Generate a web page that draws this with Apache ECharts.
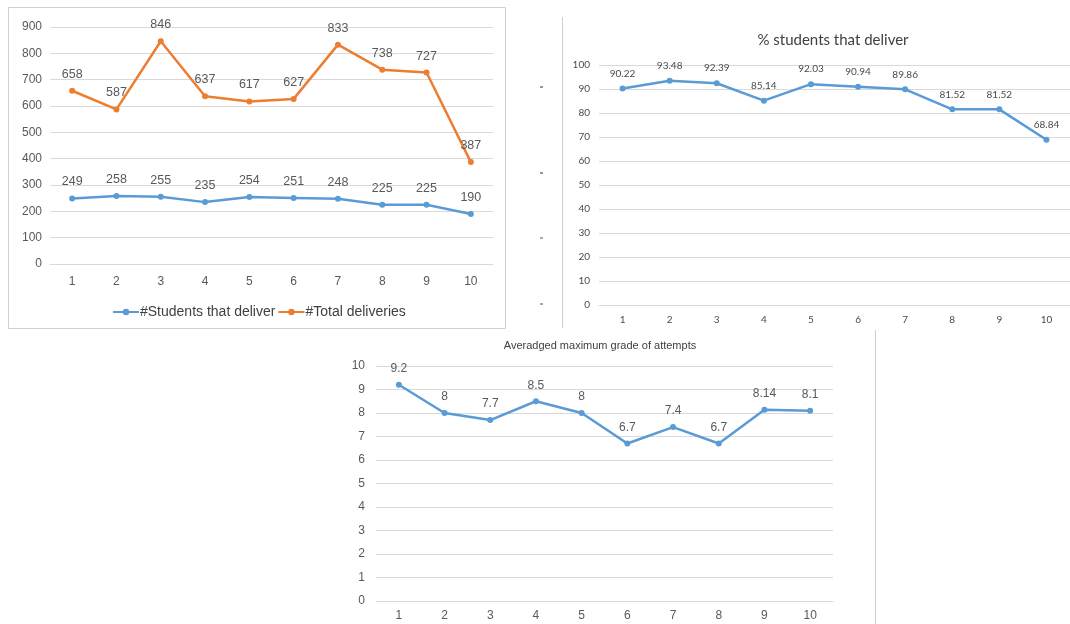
<!DOCTYPE html>
<html><head><meta charset="utf-8">
<script src="https://cdn.jsdelivr.net/npm/echarts@6/dist/echarts.min.js"></script>
<style>html,body{margin:0;padding:0;background:#fff}#c{width:1070px;height:624px}</style>
</head><body><div id="c"></div>
<script>
const categories = ['1','2','3','4','5','6','7','8','9','10'];
const studentsDeliver = [249, 258, 255, 235, 254, 251, 248, 225, 225, 190];
const totalDeliveries = [658, 587, 846, 637, 617, 627, 833, 738, 727, 387];
const pctDeliver = [90.22, 93.48, 92.39, 85.14, 92.03, 90.94, 89.86, 81.52, 81.52, 68.84];
const avgMaxGrade = [9.2, 8, 7.7, 8.5, 8, 6.7, 7.4, 6.7, 8.14, 8.1];
const names = ['#Students that deliver', '#Total deliveries'];
const titles = ['% students that deliver', 'Averadged maximum grade of attempts'];

const BLUE = '#5B9BD5', ORANGE = '#ED7D31', GRID = '#d9d9d9', TXT = '#595959', TXT2 = '#4a4a4a';
const chart = echarts.init(document.getElementById('c'));

function xAx(i, font, size, margin, col) {
  return { type: 'category', gridIndex: i, data: categories, boundaryGap: true,
    axisLine: { lineStyle: { color: GRID } }, axisTick: { show: false },
    axisLabel: { color: col, fontFamily: font, fontSize: size, margin: margin } };
}
function yAx(i, max, interval, font, size, margin, col) {
  return { type: 'value', gridIndex: i, min: 0, max: max, interval: interval,
    axisLine: { show: false }, axisTick: { show: false },
    splitLine: { lineStyle: { color: GRID, width: 1 } },
    axisLabel: { color: col, fontFamily: font, fontSize: size, margin: margin } };
}
function ser(name, data, color, i, font, size, col) {
  return { name: name, type: 'line', xAxisIndex: i, yAxisIndex: i, data: data,
    symbol: 'circle', symbolSize: 6, itemStyle: { color: color },
    lineStyle: { color: color, width: 2.5 },
    label: { show: true, position: 'top', distance: 7, color: col, fontFamily: font, fontSize: size } };
}
const AR = 'Liberation Sans', CA = 'Lato';

chart.setOption({
  animation: false,
  backgroundColor: '#fff',
  title: [
    { text: titles[0], left: 828, textAlign: 'center', top: 28,
      textStyle: { color: '#404040', fontFamily: CA, fontSize: 15, fontWeight: 'normal' } },
    { text: titles[1], left: 595, textAlign: 'center', top: 335,
      textStyle: { color: '#404040', fontFamily: AR, fontSize: 11, fontWeight: 'normal' } }
  ],
  legend: { data: names, left: 107, top: 300, itemWidth: 26, itemHeight: 8, itemGap: 2,
    textStyle: { color: '#404040', fontFamily: AR, fontSize: 14, padding: [0, 0, 0, -4] } },
  grid: [
    { left: 50, top: 27, width: 443, height: 237 },
    { left: 599, top: 65, width: 474, height: 240 },
    { left: 376, top: 366, width: 457, height: 235 }
  ],
  xAxis: [xAx(0, AR, 12, 12, TXT), xAx(1, CA, 10, 10, TXT2), xAx(2, AR, 12, 9, TXT)],
  yAxis: [yAx(0, 900, 100, AR, 12, 8, TXT), yAx(1, 100, 10, CA, 10, 9, TXT2), yAx(2, 10, 1, AR, 12, 11, TXT)],
  series: [
    ser(names[0], studentsDeliver, BLUE, 0, AR, 12.5, TXT),
    ser(names[1], totalDeliveries, ORANGE, 0, AR, 12.5, TXT),
    ser('pct', pctDeliver, BLUE, 1, CA, 10, TXT2),
    ser('grade', avgMaxGrade, BLUE, 2, AR, 12, TXT)
  ],
  graphic: [
    { type: 'rect', shape: { x: 8.5, y: 7.5, width: 497, height: 321 }, style: { fill: 'none', stroke: '#d0d0d0', lineWidth: 1 } },
    { type: 'line', shape: { x1: 562.5, y1: 17, x2: 562.5, y2: 328 }, style: { stroke: '#d0d0d0', lineWidth: 1 } },
    { type: 'line', shape: { x1: 875.5, y1: 330, x2: 875.5, y2: 624 }, style: { stroke: '#d0d0d0', lineWidth: 1 } },
    { type: 'line', shape: { x1: 540, y1: 87, x2: 543, y2: 87 }, style: { stroke: '#333', lineWidth: 1 } },
    { type: 'line', shape: { x1: 540, y1: 173, x2: 543, y2: 173 }, style: { stroke: '#333', lineWidth: 1 } },
    { type: 'line', shape: { x1: 540, y1: 238, x2: 543, y2: 238 }, style: { stroke: '#1a7a3a', lineWidth: 1 } },
    { type: 'line', shape: { x1: 540, y1: 304, x2: 543, y2: 304 }, style: { stroke: '#1a7a3a', lineWidth: 1 } }
  ]
});
</script></body></html>
